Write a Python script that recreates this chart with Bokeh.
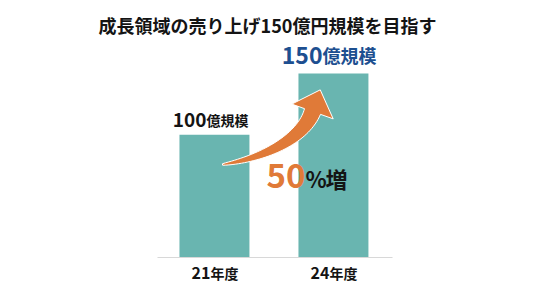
import numpy as np
from bokeh.plotting import figure
from bokeh.models import Range1d, ColumnDataSource
from bokeh.core.properties import value
from bokeh.embed import file_html
from bokeh.resources import INLINE

# ---- data ----
categories = ["21年度", "24年度"]
year_nums = ["21", "24"]
year_suffix = ["年度", "年度"]
sales = [100, 150]          # 億円規模
value_suffix = ["億規模", "億規模"]
title_text = "成長領域の売り上げ150億円規模を目指す"
growth_pct = round((sales[1] - sales[0]) / sales[0] * 100)

W, H = 540, 294
FONT = "Noto Sans CJK JP"
TEAL = "#69b5b0"
ORANGE = "#e07a38"
BLUE = "#1d4f90"
DARK = "#141414"

p = figure(width=W, height=H, output_backend="svg", toolbar_location=None,
           min_border=0, min_border_left=0, min_border_right=0,
           min_border_top=0, min_border_bottom=0,
           x_range=Range1d(-1.798, 2.740), y_range=Range1d(-30.16, 209.5))
p.axis.visible = False
p.grid.visible = False
p.outline_line_color = None
p.background_fill_color = "white"
p.border_fill_color = "white"

# pixel space for decorations
p.extra_x_ranges["px"] = Range1d(0, W)
p.extra_y_ranges["py"] = Range1d(H, 0)

idx = list(range(len(categories)))
src = ColumnDataSource(dict(x=idx, v=sales, yn=year_nums, ys=year_suffix,
                            zero=[0] * len(idx)))

# bars
p.vbar(x="x", top="v", bottom=0, width=0.588, source=src,
       fill_color=TEAL, line_color=None)

# baseline
p.segment(x0=[157], y0=[257], x1=[392], y1=[257], line_color="#d8d8d8",
          line_width=1.2, x_range_name="px", y_range_name="py")

# title
p.text(x=[267], y=[24], text=[title_text], text_font=value(FONT),
       text_font_size="18px", text_font_style="bold", text_align="center",
       text_baseline="middle", text_color=DARK, x_range_name="px", y_range_name="py")

# year labels
p.text(x="x", y="zero", text="yn", source=src, x_offset=-4, y_offset=15,
       text_font=value(FONT), text_font_size="16px", text_font_style="bold",
       text_align="right", text_baseline="alphabetic", text_color=DARK)
p.text(x="x", y="zero", text="ys", source=src, x_offset=-4, y_offset=15,
       text_font=value(FONT), text_font_size="14px", text_font_style="bold",
       text_align="left", text_baseline="alphabetic", text_color=DARK)

# value labels (first black, second blue & larger)
s0 = ColumnDataSource(dict(x=[idx[0]], v=[sales[0]], num=[str(sales[0])], suf=[value_suffix[0]]))
s1 = ColumnDataSource(dict(x=[idx[1]], v=[sales[1]], num=[str(sales[1])], suf=[value_suffix[1]]))
p.text(x="x", y="v", text="num", source=s0, x_offset=-8, y_offset=-15,
       text_font=value(FONT), text_font_size="19px", text_font_style="bold",
       text_align="right", text_baseline="alphabetic", text_color=DARK)
p.text(x="x", y="v", text="suf", source=s0, x_offset=-8, y_offset=-15,
       text_font=value(FONT), text_font_size="14px", text_font_style="bold",
       text_align="left", text_baseline="alphabetic", text_color=DARK)
p.text(x="x", y="v", text="num", source=s1, x_offset=-11, y_offset=-18,
       text_font=value(FONT), text_font_size="23px", text_font_style="bold",
       text_align="right", text_baseline="alphabetic", text_color=BLUE)
p.text(x="x", y="v", text="suf", source=s1, x_offset=-11, y_offset=-18,
       text_font=value(FONT), text_font_size="18px", text_font_style="bold",
       text_align="left", text_baseline="alphabetic", text_color=BLUE)

# curved arrow (decoration, pixel space)
P0 = np.array([222.0, 164.0]); P1 = np.array([262.0, 158.0])
P2 = np.array([302.0, 139.0]); P3 = np.array([312.0, 111.0])
t = np.linspace(0, 1, 40)[:, None]
B = (1 - t) ** 3 * P0 + 3 * (1 - t) ** 2 * t * P1 + 3 * (1 - t) * t ** 2 * P2 + t ** 3 * P3
D = 3 * (1 - t) ** 2 * (P1 - P0) + 6 * (1 - t) * t * (P2 - P1) + 3 * t ** 2 * (P3 - P2)
D = D / np.linalg.norm(D, axis=1)[:, None]
N = np.column_stack([D[:, 1], -D[:, 0]])  # normal
w = 1.5 + 15.5 * t[:, 0] ** 0.8
upper = B - N * (w / 2)[:, None]
lower = B + N * (w / 2)[:, None]
tend = D[-1]; nend = N[-1]
head_l = P3 - nend * 22
head_r = P3 + nend * 22
tip = P3 + tend * 23
pts = np.vstack([upper, head_l[None], tip[None], head_r[None], lower[::-1]])
p.patch(x=pts[:, 0], y=pts[:, 1], fill_color=ORANGE, line_color="white",
        line_width=1, x_range_name="px", y_range_name="py")

# growth label
p.text(x=[305], y=[175], text=[str(growth_pct)], text_font=value(FONT),
       text_font_size="33px", text_font_style="bold", text_align="right",
       text_baseline="alphabetic", text_color=ORANGE,
       x_range_name="px", y_range_name="py")
p.text(x=[305], y=[177], text=["%"], text_font=value(FONT),
       text_font_size="22px", text_font_style="bold", text_align="left",
       text_baseline="alphabetic", text_color=DARK,
       x_range_name="px", y_range_name="py")
p.text(x=[325], y=[177], text=["増"], text_font=value(FONT),
       text_font_size="22px", text_font_style="bold", text_align="left",
       text_baseline="alphabetic", text_color=DARK,
       x_range_name="px", y_range_name="py")

open("out.html", "w").write(file_html(p, INLINE))
